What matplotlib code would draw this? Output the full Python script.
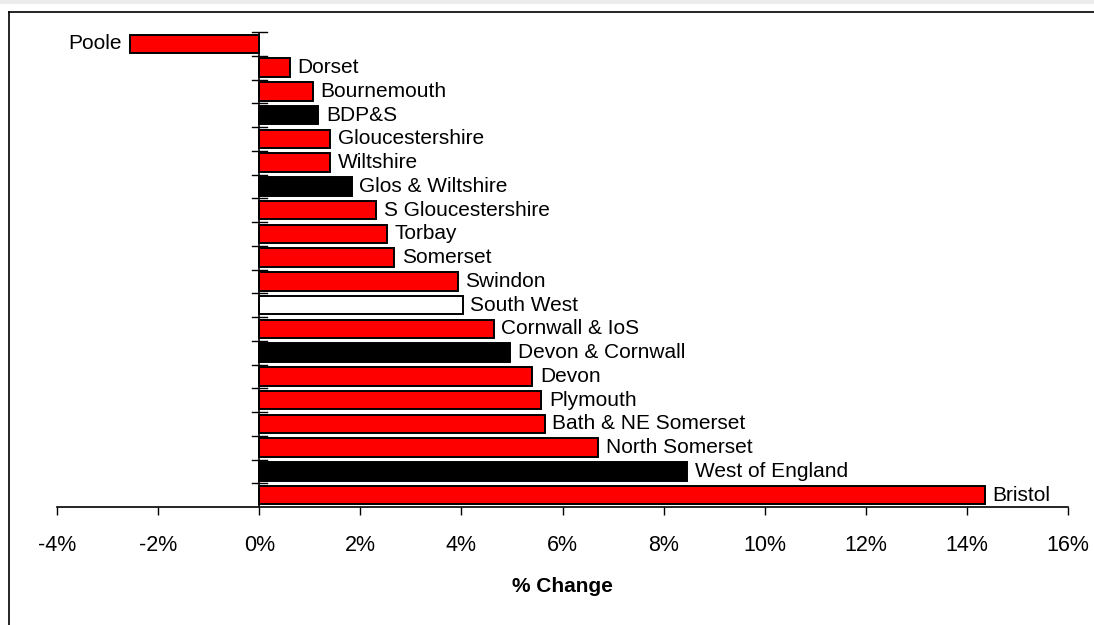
import matplotlib
matplotlib.use("Agg")
import matplotlib.pyplot as plt
from matplotlib.ticker import FuncFormatter, FixedLocator
from matplotlib.lines import Line2D
from matplotlib.patches import Rectangle

plt.rcParams['font.family'] = ['Liberation Sans', 'DejaVu Sans']

categories = ["Poole", "Dorset", "Bournemouth", "BDP&S", "Gloucestershire", "Wiltshire",
              "Glos & Wiltshire", "S Gloucestershire", "Torbay", "Somerset", "Swindon",
              "South West", "Cornwall & IoS", "Devon & Cornwall", "Devon", "Plymouth",
              "Bath & NE Somerset", "North Somerset", "West of England", "Bristol"]
values = [-2.56, 0.60, 1.06, 1.17, 1.40, 1.40, 1.83, 2.32, 2.53, 2.67, 3.93,
          4.03, 4.64, 4.96, 5.40, 5.58, 5.65, 6.71, 8.47, 14.36]
kinds = ["la", "la", "la", "grp", "la", "la", "grp", "la", "la", "la", "la",
         "region", "la", "grp", "la", "la", "la", "la", "grp", "la"]
colour_map = {"la": "#ff0000", "grp": "#000000", "region": "#ffffff"}
xticks = [-4, -2, 0, 2, 4, 6, 8, 10, 12, 14, 16]

fig = plt.figure(figsize=(10.94, 6.25), dpi=100)
ax = fig.add_axes([57/1094, 118/625, (1068-57)/1094, (507-32)/625])

n = len(categories)
ypos = list(range(n))
colors = [colour_map[k] for k in kinds]
ax.barh(ypos, values, height=0.78, color=colors, edgecolor="black", linewidth=1.4, zorder=3)

ax.set_ylim(n - 0.5, -0.5)
ax.set_xlim(-4, 16)

for y, v, name in zip(ypos, values, categories):
    if v < 0:
        ax.text(v - 0.15, y, name, ha="right", va="center", fontsize=15)
    else:
        ax.text(v + 0.15, y, name, ha="left", va="center", fontsize=15)

for s in ["top", "right", "left"]:
    ax.spines[s].set_visible(False)
ax.spines["bottom"].set_linewidth(1.2)
ax.axvline(0, color="black", linewidth=1.2, zorder=4)

ax.xaxis.set_major_locator(FixedLocator(xticks))
ax.xaxis.set_major_formatter(FuncFormatter(lambda v, p: f"{v:.0f}%"))
ax.tick_params(axis="x", direction="out", length=6, width=1, labelsize=15.5, pad=14)
ax.set_yticks([])
# category separator ticks on the zero line
for b in range(n):
    ax.plot([-0.14, 0.15], [b - 0.5, b - 0.5], color="black", linewidth=1, zorder=4,
            clip_on=False)

ax.set_xlabel("% Change", fontsize=15, fontweight="bold", labelpad=15)

# outer chart frame
fig.add_artist(Rectangle((0, 1 - 4/625), 1, 4/625, transform=fig.transFigure,
                         facecolor="#ececec", edgecolor="none"))
fig.add_artist(Line2D([9/1094, 1], [1 - 12/625, 1 - 12/625], transform=fig.transFigure,
                      color="black", linewidth=1.2))
fig.add_artist(Line2D([9/1094, 9/1094], [0, 1 - 12/625], transform=fig.transFigure,
                      color="black", linewidth=1.2))

fig.savefig("out.png", dpi=100)
